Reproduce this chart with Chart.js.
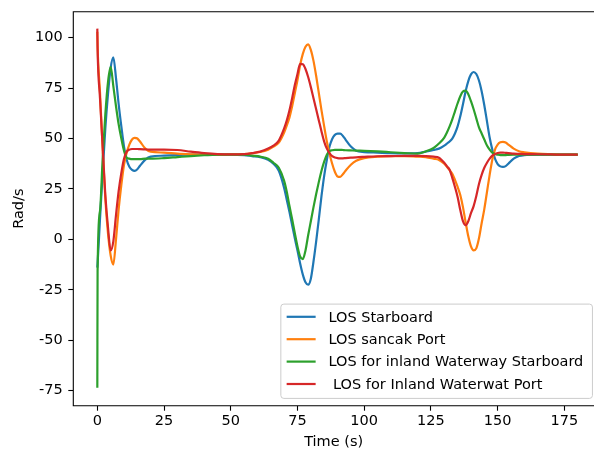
<!DOCTYPE html>
<html>
<head>
<meta charset="utf-8">
<title>LOS heading rate</title>
<script src="https://cdn.jsdelivr.net/npm/chart.js@4.4.1/dist/chart.umd.min.js"></script>
<style>
  html, body { margin: 0; padding: 0; background: #fff; overflow: hidden; }
  canvas { display: block; }
</style>
</head>
<body>
<canvas id="rateChart" width="594" height="455"></canvas>
<script>
// sample times (s)
const timeS = [0, 0.1, 1, 2, 3, 4, 5, 6, 7, 8, 9, 10, 11, 12, 13, 14, 15, 16, 18, 20,
  25, 30, 35, 40, 45, 50, 55, 58, 61, 64, 66, 68, 70, 71, 72, 73, 74, 75, 76, 77,
  78, 79, 80, 81, 82, 83, 84, 85, 86, 87, 88, 89, 90, 91, 92, 93, 95, 97, 100, 105,
  110, 115, 120, 123, 126, 128, 130, 131, 132, 133, 134, 135, 136, 137, 138, 139, 140, 141, 142, 143,
  144, 145, 146, 147, 148, 149, 150, 151, 152, 153, 154, 156, 158, 160, 165, 170, 175, 180];

const losStarboard = [-14, -12, 10, 33, 55, 72, 85, 90.3, 80, 67, 56, 46, 39.5, 36, 34.5, 34, 34.8, 36.5, 39.5, 41,
  41.5, 41.8, 42, 42, 42, 42, 41.8, 41.3, 40.8, 39.5, 37.5, 34, 25.5, 19.5, 13.5, 7, 0.5, -5.5, -12, -17.5,
  -21.3, -22.5, -19.5, -11, -1, 10, 21.5, 31.5, 39.5, 46, 49.8, 51.8, 52.4, 52.4, 51.3, 49.5, 46, 44, 43.3, 43,
  42.7, 42.6, 42.8, 43.5, 44.3, 45, 46.5, 47.5, 48.5, 50, 52.5, 56, 61, 67, 73.5, 78.5, 81.8, 83, 82, 78.8,
  73.5, 66.5, 58.5, 50.5, 44.5, 40, 37.3, 36.2, 35.9, 36.3, 37.5, 40, 41.3, 41.8, 42, 42, 42, 42];

const losSancakPort = [103, 96, 73, 45, 20, 3, -8, -12.5, 0, 15, 27, 37, 43, 47, 49.5, 50.3, 50, 48.5, 45, 43.5,
  43, 42.5, 42.2, 42, 42, 42.1, 42.3, 42.7, 43.3, 44.5, 46, 48, 53, 56.5, 60.5, 66, 72.5, 79, 86.5, 92,
  95.5, 96.7, 94, 88.5, 81, 72.5, 64, 56, 48.5, 42.5, 37.5, 33.5, 31.2, 31, 32.3, 34, 37, 39, 40.3, 41,
  41.3, 41.3, 41, 40.8, 40, 39.4, 37.5, 36, 34.3, 32.5, 29.5, 26, 22, 16, 8.5, 1.5, -3.5, -5.5, -4.5, 0.5,
  8, 15, 23.5, 32, 39.5, 44.5, 47, 48.1, 48.3, 48, 47, 45, 43.7, 43.2, 42.5, 42.2, 42, 42];

const inlandStarboard = [-73.6, -16, 14, 40, 62, 78, 85.5, 76, 66, 57, 50, 44, 40.5, 40, 39.8, 39.8, 39.8, 39.8, 40, 40,
  40.3, 40.8, 41.3, 41.7, 42, 42, 42, 41.5, 41, 40, 38, 35.5, 29, 23.5, 16.5, 10, 3, -3.5, -8.5, -9.8,
  -5.5, 2, 9, 16, 22.5, 28.5, 34, 38.5, 42, 43.8, 44.2, 44.4, 44.4, 44.4, 44.3, 44.2, 44.1, 44, 43.9, 43.6,
  43.2, 42.8, 42.5, 43.6, 45.3, 47.5, 50.5, 53, 56, 59.5, 63.5, 67.5, 71, 73.3, 73.8, 72, 68.5, 64.5, 60, 55.5,
  52.5, 49.5, 46.5, 44.5, 43, 42.3, 42, 41.8, 41.8, 41.8, 41.9, 42, 42, 42, 42, 42, 42, 42];

const inlandPort = [104.5, 94.5, 70, 46, 22, 6, -5.5, -1, 12, 24, 33, 40, 43.5, 44.5, 44.8, 44.8, 44.8, 44.7, 44.6, 44.5,
  44.5, 44.3, 43.5, 42.8, 42.3, 42.1, 42.3, 42.8, 43.5, 45, 46.5, 49, 55, 59, 64, 70, 76.5, 82, 87, 86.8,
  84.5, 80.5, 75.5, 70, 64.5, 59, 53.5, 48.5, 45, 42.8, 41.3, 40.6, 40.3, 40.2, 40.2, 40.3, 40.5, 40.7, 40.9, 41.2,
  41.3, 41.4, 41.4, 41.3, 41, 40.5, 38, 36.2, 34.5, 30.5, 26, 21, 14.5, 9, 7, 9, 13, 16.5, 21.5, 27.5,
  32, 35.5, 38, 40, 41.5, 42.3, 42.8, 43, 43, 42.9, 42.8, 42.5, 42.4, 42.3, 42.2, 42.1, 42, 42];

const seriesLabels = ['LOS Starboard', 'LOS sancak Port', 'LOS for inland Waterway Starboard', ' LOS for Inland Waterwat Port'];
const seriesColors = ['#1f77b4', '#ff7f0e', '#2ca02c', '#d62728'];
const xTicks = [0, 25, 50, 75, 100, 125, 150, 175];
const yTicks = [-75, -50, -25, 0, 25, 50, 75, 100];

// full x range of the axes box is -9..189, but the canvas stops near 186
const X_MIN = -9, X_MAX_BOX = 189, X_MAX_VISIBLE = 186.1;

const FONT = 'DejaVu Sans';
const FS = 14.5;
Chart.defaults.font.family = FONT;
Chart.defaults.font.size = FS;
Chart.defaults.color = '#000';

function toPoints(vals) {
  return vals.map((v, i) => ({ x: timeS[i], y: v }));
}

const allSeries = [losStarboard, losSancakPort, inlandStarboard, inlandPort];
const datasets = allSeries.map((vals, i) => ({
  label: seriesLabels[i],
  data: toPoints(vals),
  borderColor: seriesColors[i],
  backgroundColor: seriesColors[i],
  borderWidth: 2.2,
  pointRadius: 0,
  fill: false,
  cubicInterpolationMode: 'monotone',
  borderJoinStyle: 'round',
  order: allSeries.length - i // later series on top
}));

// axes frame (left, top, bottom) + legend box in the lower right corner
const frameAndLegend = {
  id: 'frameAndLegend',
  afterDraw(chart) {
    const { ctx, chartArea: a, width } = chart;
    ctx.save();
    // keep the rightmost column clean between the spines
    ctx.fillStyle = '#fff';
    ctx.fillRect(width - 1.5, a.top + 1, 1.5, a.bottom - a.top - 2);

    ctx.strokeStyle = '#000';
    ctx.lineWidth = 1.1;
    ctx.beginPath();
    ctx.moveTo(width + 2, a.top);
    ctx.lineTo(a.left, a.top);
    ctx.lineTo(a.left, a.bottom);
    ctx.lineTo(width + 2, a.bottom);
    ctx.stroke();

    ctx.font = FS + 'px "' + FONT + '"';
    const boxRight = chart.scales.x.getPixelForValue(X_MAX_BOX);
    const boxW = 311.6;
    const boxH = 94.3;
    const rowH = 22.4;
    const x1 = boxRight - 9.3;
    const y1 = a.bottom - 7.3;
    const x0 = x1 - boxW;
    const y0 = y1 - boxH;

    ctx.beginPath();
    ctx.roundRect(x0, y0, boxW, boxH, 3);
    ctx.fillStyle = 'rgba(255,255,255,0.8)';
    ctx.fill();
    ctx.strokeStyle = '#cccccc';
    ctx.lineWidth = 1;
    ctx.stroke();

    ctx.textAlign = 'left';
    ctx.textBaseline = 'middle';
    chart.data.datasets.forEach((d, i) => {
      const cy = y0 + 12.7 + i * rowH;
      ctx.beginPath();
      ctx.strokeStyle = d.borderColor;
      ctx.lineWidth = 2.2;
      ctx.moveTo(x0 + 5.8, cy);
      ctx.lineTo(x0 + 34.8, cy);
      ctx.stroke();
      ctx.fillStyle = '#000';
      ctx.fillText(d.label, x0 + 47.6, cy + 1);
    });
    ctx.restore();
  }
};

new Chart(document.getElementById('rateChart'), {
  type: 'line',
  data: { datasets },
  options: {
    responsive: false,
    animation: false,
    layout: { padding: { top: 11.7, right: 0, bottom: 0, left: 0 } },
    plugins: { legend: { display: false }, tooltip: { enabled: false } },
    scales: {
      x: {
        type: 'linear',
        min: X_MIN,
        max: X_MAX_VISIBLE,
        afterBuildTicks: s => { s.ticks = xTicks.map(v => ({ value: v })); },
        afterFit: s => { s.height = 49.3; s.paddingLeft = 0; s.paddingRight = 0; },
        ticks: { color: '#000', padding: 2, maxRotation: 0 },
        grid: { drawOnChartArea: false, drawTicks: true, tickLength: 5, tickColor: '#000', tickWidth: 1.1 },
        border: { display: false },
        title: { display: true, text: 'Time (s)', color: '#000', padding: { top: 0, bottom: 4.3 } }
      },
      y: {
        type: 'linear',
        min: -82.5,
        max: 112.9,
        afterBuildTicks: s => { s.ticks = yTicks.map(v => ({ value: v })); },
        afterFit: s => { s.width = 73.3; s.paddingTop = 0; s.paddingBottom = 0; },
        ticks: { color: '#000', padding: 5.6 },
        grid: { drawOnChartArea: false, drawTicks: true, tickLength: 5, tickColor: '#000', tickWidth: 1.1 },
        border: { display: false },
        title: { display: true, text: 'Rad/s', color: '#000', padding: { top: 10.1, bottom: 0 } }
      }
    }
  },
  plugins: [frameAndLegend]
});
</script>
</body>
</html>
